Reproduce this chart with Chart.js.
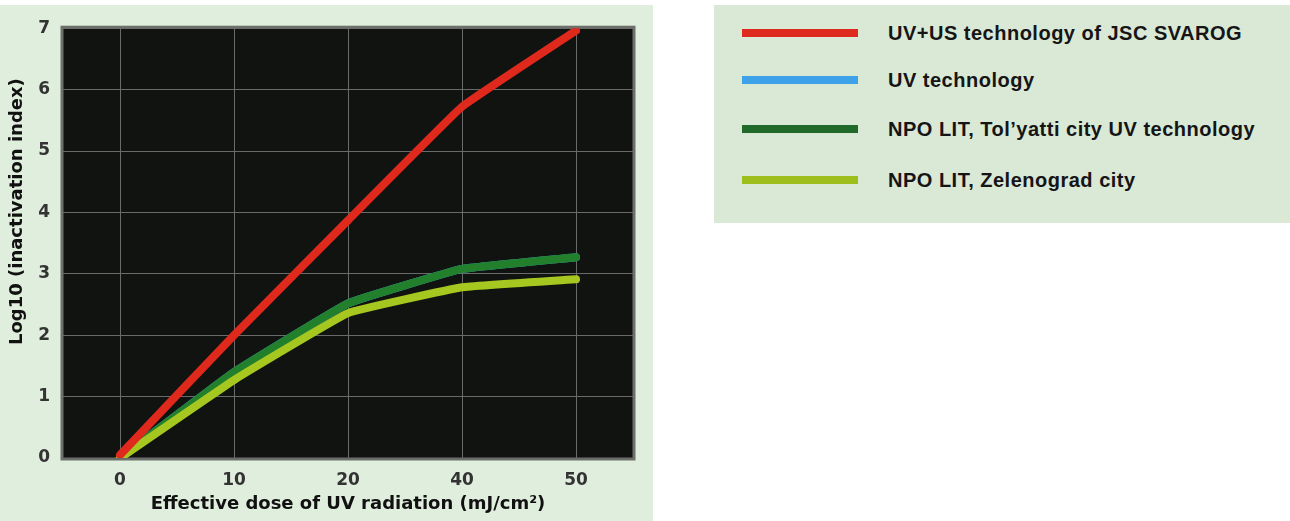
<!DOCTYPE html>
<html>
<head>
<meta charset="utf-8">
<script src="https://cdn.jsdelivr.net/npm/chart.js@4.4.1/dist/chart.umd.min.js"></script>
<style>
  body { margin: 0; background: #fff; width: 1290px; height: 521px; overflow: hidden; position: relative; font-family: 'Liberation Sans', Arial, sans-serif; }
  #panel { position: absolute; left: 0; top: 5px; width: 653px; height: 516px; background: #e0eedd; }
  #legend { position: absolute; left: 714px; top: 5px; width: 576px; height: 218px; background: #dae8d6; }
  .row { position: absolute; left: 0; height: 22px; }
  .swatch { position: absolute; left: 28px; top: 7px; width: 116px; height: 8px; }
  .label { position: absolute; left: 174px; top: 0; white-space: nowrap; font-weight: bold; font-size: 20px; letter-spacing: 0.5px; line-height: 22px; color: #151515; }
</style>
</head>
<body>
<div id="panel"><canvas id="chart" width="653" height="516"></canvas></div>
<div id="legend"></div>
<script>
// x categories (mJ/cm2) and log10 inactivation values
const doses = ['0', '10', '20', '40', '50'];
const svarog = [0.05, 2.0, 3.87, 5.72, 6.96];
const uvTech = [0, 1.40, 2.52, 3.08, 3.27];
const togliatti = [0, 1.40, 2.52, 3.08, 3.27];
const zelenograd = [0, 1.27, 2.36, 2.78, 2.91];

const seriesNames = [
  'UV+US technology of JSC SVAROG',
  'UV technology',
  'NPO LIT, Tol\u2019yatti city UV technology',
  'NPO LIT, Zelenograd city'
];
const legendColors = ['#df2a1e', '#3da2ea', '#1f6a2b', '#9dbe1c'];
const lineColors = ['#e0291d', '#3da2ea', '#22802c', '#a6c720'];

// legend box on the right
const legend = document.getElementById('legend');
const rowTops = [17, 64, 113, 164];
seriesNames.forEach((name, i) => {
  const row = document.createElement('div');
  row.className = 'row';
  row.style.top = rowTops[i] + 'px';
  row.innerHTML = '<div class="swatch" style="background:' + legendColors[i] + '"></div><div class="label">' + name + '</div>';
  legend.appendChild(row);
});

// dark plot background + grey frame
const plotBg = {
  id: 'plotBg',
  beforeDraw(chart) {
    const { ctx, chartArea: a } = chart;
    ctx.save();
    ctx.fillStyle = '#111311';
    ctx.fillRect(a.left, a.top, a.right - a.left, a.bottom - a.top);
    ctx.strokeStyle = '#6d706b';
    ctx.lineWidth = 3;
    ctx.strokeRect(a.left - 1, a.top - 1, a.right - a.left + 2, a.bottom - a.top + 2);
    ctx.restore();
  }
};

const tickFont = { family: "'DejaVu Sans', sans-serif", size: 17, weight: 'bold' };
const titleFont = { family: "'DejaVu Sans', sans-serif", size: 18, weight: 'bold' };

// the y title sits a bit above centre in the original, pad its start with spaces
const yTitle = '\u2002'.repeat(7) + 'Log10 (inactivation index)';

new Chart(document.getElementById('chart'), {
  type: 'line',
  data: {
    labels: doses,
    datasets: [
      { label: seriesNames[0], data: svarog, borderColor: lineColors[0], order: 0 },
      { label: seriesNames[1], data: uvTech, borderColor: lineColors[1], order: 5 },
      { label: seriesNames[2], data: togliatti, borderColor: lineColors[2], order: 2 },
      { label: seriesNames[3], data: zelenograd, borderColor: lineColors[3], order: 1 }
    ]
  },
  options: {
    responsive: false,
    animation: false,
    devicePixelRatio: 1,
    layout: { padding: { top: 23, right: 20, left: 0, bottom: 0 } },
    elements: {
      line: { borderWidth: 8, tension: 0.08, borderCapStyle: 'round', borderJoinStyle: 'round' },
      point: { radius: 0 }
    },
    plugins: {
      legend: { display: false },
      tooltip: { enabled: false }
    },
    scales: {
      x: {
        offset: true,
        grid: { color: '#6a6a6a', lineWidth: 1, drawTicks: false, offset: false },
        border: { display: false },
        ticks: { color: '#333', font: tickFont, padding: 12 },
        title: { display: true, text: 'Effective dose of UV radiation (mJ/cm\u00b2)', color: '#111', font: titleFont, padding: { top: 0, bottom: 6 } },
        afterFit(scale) { scale.height = 63; }
      },
      y: {
        min: 0,
        max: 7,
        grid: { color: '#6a6a6a', lineWidth: 1, drawTicks: false },
        border: { display: false },
        ticks: { color: '#333', font: tickFont, padding: 13, stepSize: 1 },
        title: { display: true, text: yTitle, color: '#111', font: titleFont, padding: { top: 7, bottom: 0 } },
        afterFit(scale) { scale.width = 63; }
      }
    }
  },
  plugins: [plotBg]
});
</script>
</body>
</html>
